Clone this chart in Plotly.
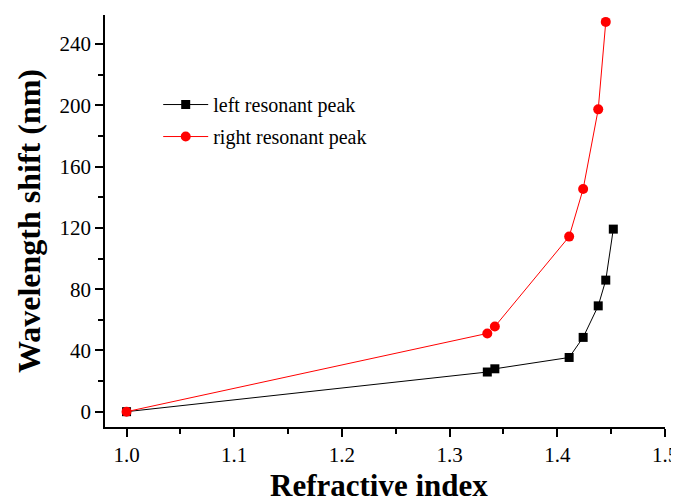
import plotly.graph_objects as go

# Data
left_x = [1.0, 1.335, 1.342, 1.411, 1.424, 1.438, 1.445, 1.452]
left_y = [0, 25.9, 28.0, 35.4, 48.5, 69.1, 85.9, 119.2]
right_x = [1.0, 1.335, 1.342, 1.411, 1.424, 1.438, 1.445]
right_y = [0, 51.1, 55.6, 114.3, 145.4, 197.4, 254.5]

x_ticks = [1.0, 1.1, 1.2, 1.3, 1.4, 1.5]
y_ticks = [0, 40, 80, 120, 160, 200, 240]

font_family = "Liberation Serif, Times New Roman, serif"

fig = go.Figure()
fig.add_trace(go.Scatter(
    x=left_x, y=left_y, mode="lines+markers", name="left resonant peak",
    line=dict(color="black", width=1),
    marker=dict(symbol="square", size=9, color="black"),
    legendgroup="a",
))
fig.add_trace(go.Scatter(
    x=right_x, y=right_y, mode="lines+markers", name="right resonant peak",
    line=dict(color="red", width=1),
    marker=dict(symbol="circle", size=10, color="red"),
    legendgroup="b",
))

axis_common = dict(
    showline=True, linecolor="black", linewidth=1.5,
    ticks="outside", ticklen=8, tickwidth=1.5, tickcolor="black",
    showgrid=False, zeroline=False, mirror=False, automargin=False,
    tickfont=dict(family=font_family, size=21, color="black"),
)

fig.update_xaxes(
    range=[0.98, 1.5], tickvals=x_ticks, ticktext=[f"{v:.1f}" for v in x_ticks],
    minor=dict(dtick=0.05, tick0=1.0, ticks="outside", ticklen=5, tickwidth=1.5, tickcolor="black"),
    **axis_common,
)
fig.update_yaxes(
    range=[-10, 259], tickvals=y_ticks,
    title=dict(text="<b>Wavelength shift (nm)</b>", font=dict(family=font_family, size=32, color="black"), standoff=9),
    minor=dict(dtick=20, tick0=0, ticks="outside", ticklen=5, tickwidth=1.5, tickcolor="black"),
    **axis_common,
)

fig.add_annotation(
    text="<b>Refractive index</b>", xref="paper", yref="paper",
    x=0.49, y=0, yshift=-58, xanchor="center", yanchor="middle",
    showarrow=False, font=dict(family=font_family, size=31, color="black"),
)

fig.update_layout(
    width=671, height=496, autosize=False,
    margin=dict(l=97, r=14, t=7, b=77),
    paper_bgcolor="white", plot_bgcolor="white",
    showlegend=True,
    legend=dict(
        x=0.095, y=0.83, xanchor="left", yanchor="top",
        bgcolor="rgba(0,0,0,0)", borderwidth=0,
        font=dict(family=font_family, size=20, color="black"),
        traceorder="grouped", tracegroupgap=3, itemwidth=45,
    ),
)

fig.write_html("out.html")
